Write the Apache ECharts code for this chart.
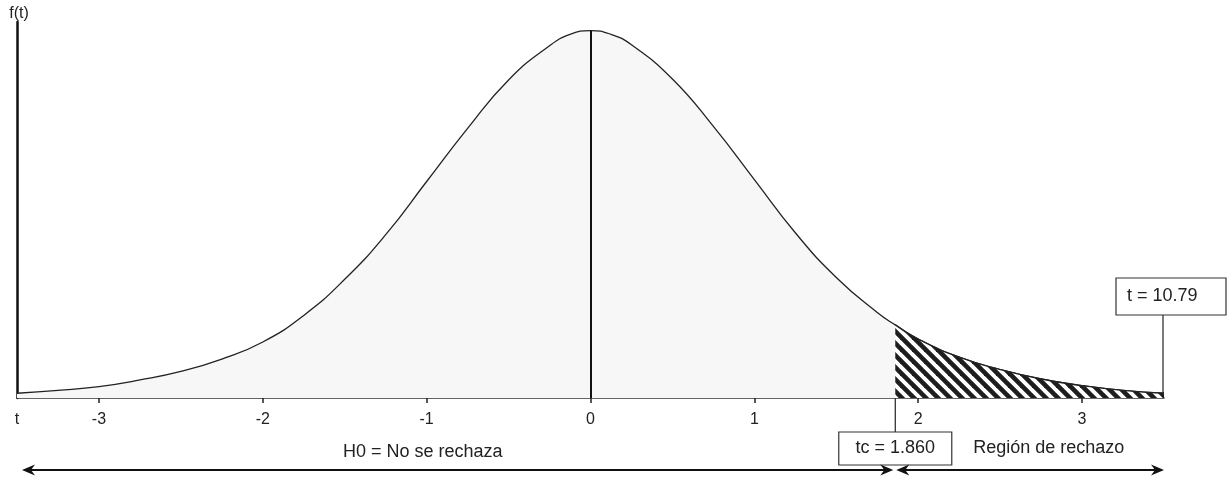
<!DOCTYPE html>
<html>
<head>
<meta charset="utf-8">
<script src="https://cdn.jsdelivr.net/npm/echarts@6/dist/echarts.min.js"></script>
<style>
  html, body { margin: 0; padding: 0; background: #fff; }
  #main { width: 1228px; height: 479px; }
</style>
</head>
<body>
<div id="main"></div>
<script>
// valores
var tVals = [-3.5, -3.25, -3, -2.75, -2.5, -2.25, -2, -1.75, -1.5, -1.25, -1, -0.75, -0.5, -0.25, -0.125, 0,
             0.125, 0.25, 0.5, 0.75, 1, 1.25, 1.5, 1.75, 1.86, 2, 2.25, 2.5, 2.75, 3, 3.25, 3.5];
var fVals = [0.005, 0.008, 0.012, 0.019, 0.028, 0.041, 0.059, 0.087, 0.125, 0.172, 0.228, 0.284, 0.335, 0.371, 0.383, 0.387,
             0.383, 0.372, 0.336, 0.286, 0.230, 0.174, 0.127, 0.090, 0.077, 0.062, 0.043, 0.030, 0.020, 0.013, 0.008, 0.005];
var tickVals = [-3, -2, -1, 0, 1, 2, 3];
var tc = 1.86;
var tObs = '10.79';

var curve = tVals.map(function (t, i) { return [t, fVals[i]]; });
var tail = curve.filter(function (d) { return d[0] >= tc; });
var peak = fVals[tVals.indexOf(0)];

// trama rayada para la región de rechazo
function hatch() {
    var c = document.createElement('canvas');
    c.width = 12; c.height = 12;
    var ctx = c.getContext('2d');
    ctx.fillStyle = '#ffffff';
    ctx.fillRect(0, 0, 12, 12);
    ctx.strokeStyle = '#1e1e1e';
    ctx.lineWidth = 4.6;
    for (var k = -1; k <= 1; k++) {
        ctx.beginPath();
        ctx.moveTo(-2, -2 + 12 * k);
        ctx.lineTo(14, 14 + 12 * k);
        ctx.stroke();
    }
    return c;
}

var myChart = echarts.init(document.getElementById('main'));
var option = {
    animation: false,
    grid: { left: 17, right: 64, top: 22, bottom: 81, containLabel: false },
    xAxis: {
        type: 'value',
        min: -3.5,
        max: 3.5,
        axisLine: { lineStyle: { color: '#333', width: 1.5 } },
        axisTick: { show: true, inside: false, length: 5, customValues: tickVals, lineStyle: { color: '#222', width: 1.5 } },
        axisLabel: {
            customValues: [-3.5].concat(tickVals),
            margin: 14,
            fontSize: 16,
            color: '#222',
            fontFamily: 'Liberation Sans',
            formatter: function (v) { return v === -3.5 ? 't' : String(v); }
        },
        splitLine: { show: false }
    },
    yAxis: {
        type: 'value',
        min: 0,
        max: 0.396,
        name: 'f(t)',
        nameLocation: 'end',
        nameGap: 0,
        nameTextStyle: { fontSize: 16, color: '#222', fontFamily: 'Liberation Sans', padding: [0, 0, 0, 4] },
        axisLine: { show: true, onZero: false, lineStyle: { color: '#111', width: 2.5 } },
        axisTick: { show: false },
        axisLabel: { show: false },
        splitLine: { show: false }
    },
    series: [{
        name: 'f(t)',
        type: 'line',
        data: curve,
        smooth: 0.5,
        symbol: 'none',
        z: 2,
        lineStyle: { color: '#222', width: 1.3 },
        areaStyle: { color: '#f7f7f7', opacity: 1 },
        markLine: {
            silent: true,
            symbol: 'none',
            label: { show: false },
            lineStyle: { color: '#111', width: 2, type: 'solid' },
            data: [[{ coord: [0, 0] }, { coord: [0, peak] }]]
        }
    },
    {
        name: 'rechazo',
        type: 'line',
        data: tail,
        smooth: 0.5,
        symbol: 'none',
        z: 3,
        lineStyle: { color: '#222', width: 1.3 },
        areaStyle: { color: { image: hatch(), repeat: 'repeat' }, opacity: 1 }
    }]
};
myChart.setOption(option);

// anotaciones: cajas, líneas y flechas
function px(x, y) { return myChart.convertToPixel({ gridIndex: 0 }, [x, y]); }
var fTc = fVals[tVals.indexOf(tc)];
var pTc = px(tc, fTc);
var pBase = px(tc, 0);
var xL = px(-3.5, 0)[0];
var xR = px(3.5, 0)[0];
var yB = pBase[1];
var yArrow = yB + 72;
var font18 = '18px "Liberation Sans", Arial, sans-serif';

function arrowHead(x, y, dir) {
    var L = 13, W = 5.5, N = 9;
    return {
        type: 'polygon',
        shape: { points: [[x, y], [x - dir * L, y - W], [x - dir * N, y], [x - dir * L, y + W]] },
        style: { fill: '#111' }
    };
}

myChart.setOption({
    graphic: [
        // línea en tc
        { type: 'line', shape: { x1: pTc[0], y1: pTc[1], x2: pTc[0], y2: yB + 34 }, style: { stroke: '#222', lineWidth: 1.2 } },
        // caja tc
        { type: 'rect', shape: { x: pTc[0] - 56.5, y: yB + 34, width: 113, height: 33 }, style: { fill: '#fff', stroke: '#333', lineWidth: 1.2 } },
        { type: 'text', x: pTc[0], y: yB + 50, style: { text: 'tc = ' + tc.toFixed(3), font: font18, fill: '#222', align: 'center', verticalAlign: 'middle' } },
        { type: 'text', x: pTc[0] + 78, y: yB + 50, style: { text: 'Región de rechazo', font: font18, fill: '#222', align: 'left', verticalAlign: 'middle' } },
        { type: 'text', x: 343, y: yB + 54, style: { text: 'H0 = No se rechaza', font: font18, fill: '#222', align: 'left', verticalAlign: 'middle' } },
        // línea y caja del t observado
        { type: 'line', shape: { x1: xR - 1, y1: yB, x2: xR - 1, y2: yB - 83 }, style: { stroke: '#222', lineWidth: 1.2 } },
        { type: 'rect', shape: { x: xR - 48, y: yB - 120, width: 110, height: 37 }, style: { fill: '#fff', stroke: '#333', lineWidth: 1.2 } },
        { type: 'text', x: xR - 37, y: yB - 102, style: { text: 't = ' + tObs, font: font18, fill: '#222', align: 'left', verticalAlign: 'middle' } },
        // flechas
        { type: 'line', shape: { x1: xL + 8, y1: yArrow, x2: pTc[0] - 6, y2: yArrow }, style: { stroke: '#111', lineWidth: 2 } },
        arrowHead(xL + 5, yArrow, -1),
        arrowHead(pTc[0] - 2, yArrow, 1),
        { type: 'line', shape: { x1: pTc[0] + 6, y1: yArrow, x2: xR - 6, y2: yArrow }, style: { stroke: '#111', lineWidth: 2 } },
        arrowHead(pTc[0] + 1, yArrow, -1),
        arrowHead(xR, yArrow, 1)
    ]
});
</script>
</body>
</html>
